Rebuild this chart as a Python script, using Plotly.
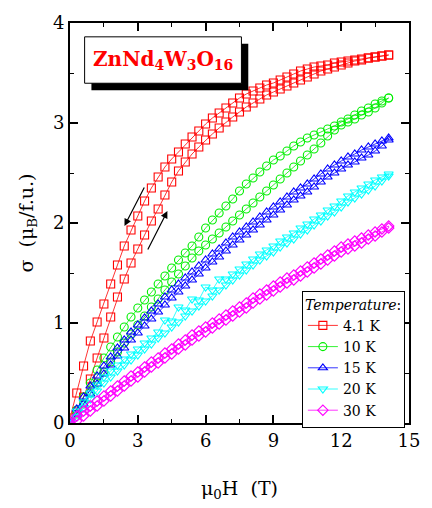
import plotly.graph_objects as go

# Field grid (T) for each sweep branch
field = [0.0, 0.3, 0.6, 0.9, 1.2, 1.5, 1.8, 2.1, 2.4, 2.7, 3.0, 3.3, 3.6, 3.9, 4.2, 4.5,
         4.8, 5.1, 5.4, 5.7, 6.0, 6.3, 6.6, 6.9, 7.2, 7.5, 7.8, 8.1, 8.4, 8.7, 9.0, 9.3,
         9.6, 9.9, 10.2, 10.5, 10.8, 11.1, 11.4, 11.7, 12.0, 12.3, 12.6, 12.9, 13.2, 13.5,
         13.8, 14.1]

temps = ["4.1 K", "10 K", "15 K", "20 K", "30 K"]
colors = ["#ff0000", "#00ee00", "#0000ff", "#00ffff", "#ff00ff"]
symbols = ["square-open", "circle-open", "triangle-up-open", "triangle-down-open", "diamond-open"]

# Field-increasing branches (sigma in mu_B/f.u.)
up_41K = [0.00, 0.11, 0.26, 0.44, 0.65, 0.85, 1.06, 1.26, 1.44, 1.60, 1.74, 1.88, 2.02, 2.14, 2.28, 2.41,
          2.52, 2.61, 2.69, 2.76, 2.83, 2.89, 2.95, 3.01, 3.06, 3.11, 3.16, 3.20, 3.24, 3.28, 3.31, 3.34,
          3.37, 3.40, 3.43, 3.46, 3.49, 3.52, 3.54, 3.56, 3.58, 3.60, 3.62, 3.63, 3.65, 3.66, 3.67, 3.68]
up_10K = [0.00, 0.09, 0.19, 0.30, 0.40, 0.51, 0.61, 0.71, 0.80, 0.89, 0.98, 1.07, 1.16, 1.24, 1.33, 1.41,
          1.49, 1.57, 1.65, 1.72, 1.78, 1.84, 1.90, 1.96, 2.02, 2.08, 2.14, 2.20, 2.26, 2.32, 2.38, 2.44,
          2.50, 2.56, 2.62, 2.68, 2.74, 2.80, 2.87, 2.93, 2.98, 3.01, 3.04, 3.08, 3.11, 3.15, 3.20, 3.25]
up_15K = [0.00, 0.09, 0.19, 0.29, 0.39, 0.49, 0.58, 0.67, 0.75, 0.83, 0.90, 0.97, 1.04, 1.11, 1.18, 1.25,
          1.31, 1.37, 1.43, 1.49, 1.55, 1.61, 1.66, 1.72, 1.78, 1.83, 1.88, 1.93, 1.98, 2.03, 2.08, 2.13,
          2.18, 2.23, 2.27, 2.31, 2.36, 2.41, 2.46, 2.50, 2.54, 2.58, 2.61, 2.65, 2.68, 2.72, 2.77, 2.83]
up_20K = [0.00, 0.06, 0.15, 0.24, 0.32, 0.40, 0.46, 0.52, 0.58, 0.63, 0.68, 0.74, 0.79, 0.85, 0.90, 0.96,
          1.01, 1.07, 1.12, 1.17, 1.22, 1.27, 1.33, 1.38, 1.43, 1.48, 1.53, 1.58, 1.63, 1.67, 1.71, 1.76,
          1.80, 1.84, 1.89, 1.93, 1.98, 2.02, 2.07, 2.11, 2.16, 2.21, 2.25, 2.29, 2.33, 2.37, 2.42, 2.47]
up_30K = [0.00, 0.02, 0.07, 0.12, 0.17, 0.22, 0.27, 0.32, 0.37, 0.42, 0.46, 0.51, 0.56, 0.60, 0.65, 0.69,
          0.74, 0.78, 0.83, 0.87, 0.91, 0.95, 0.99, 1.03, 1.07, 1.11, 1.15, 1.20, 1.24, 1.28, 1.32, 1.36,
          1.40, 1.43, 1.47, 1.51, 1.55, 1.59, 1.63, 1.67, 1.71, 1.74, 1.77, 1.80, 1.84, 1.87, 1.91, 1.95]

# Field-decreasing branches (listed at the same field values, low to high)
down_41K = [0.05, 0.30, 0.57, 0.82, 1.01, 1.19, 1.39, 1.58, 1.77, 1.93, 2.07, 2.22, 2.35, 2.46, 2.56, 2.64,
            2.71, 2.79, 2.86, 2.92, 2.99, 3.05, 3.10, 3.15, 3.20, 3.25, 3.29, 3.32, 3.35, 3.38, 3.40, 3.43,
            3.46, 3.49, 3.52, 3.54, 3.56, 3.57, 3.58, 3.60, 3.61, 3.62, 3.63, 3.64, 3.65, 3.66, 3.67, 3.68]
down_10K = [0.02, 0.13, 0.26, 0.40, 0.53, 0.65, 0.76, 0.86, 0.96, 1.06, 1.15, 1.23, 1.31, 1.39, 1.47, 1.55,
            1.63, 1.70, 1.77, 1.86, 1.95, 2.03, 2.10, 2.17, 2.24, 2.32, 2.39, 2.45, 2.51, 2.57, 2.63, 2.67,
            2.72, 2.77, 2.81, 2.85, 2.88, 2.91, 2.94, 2.97, 3.01, 3.04, 3.08, 3.12, 3.15, 3.19, 3.22, 3.25]
down_15K = [0.01, 0.14, 0.26, 0.37, 0.47, 0.57, 0.66, 0.75, 0.83, 0.91, 0.98, 1.05, 1.12, 1.19, 1.26, 1.33,
            1.39, 1.45, 1.51, 1.57, 1.63, 1.69, 1.74, 1.80, 1.86, 1.91, 1.96, 2.01, 2.06, 2.11, 2.16, 2.21,
            2.26, 2.31, 2.35, 2.39, 2.44, 2.49, 2.54, 2.58, 2.62, 2.66, 2.69, 2.73, 2.76, 2.79, 2.82, 2.85]
down_20K = [0.01, 0.12, 0.21, 0.30, 0.38, 0.46, 0.52, 0.58, 0.64, 0.69, 0.74, 0.80, 0.85, 0.91, 1.03, 1.02,
            1.16, 1.13, 1.24, 1.23, 1.36, 1.33, 1.44, 1.44, 1.49, 1.54, 1.59, 1.64, 1.69, 1.73, 1.77, 1.82,
            1.86, 1.90, 1.95, 1.99, 2.04, 2.08, 2.13, 2.17, 2.22, 2.27, 2.31, 2.35, 2.39, 2.43, 2.46, 2.49]
down_30K = [0.01, 0.07, 0.12, 0.17, 0.22, 0.27, 0.32, 0.37, 0.42, 0.47, 0.51, 0.56, 0.61, 0.65, 0.70, 0.74,
            0.79, 0.83, 0.88, 0.92, 0.96, 1.00, 1.04, 1.08, 1.12, 1.16, 1.20, 1.25, 1.29, 1.33, 1.37, 1.41,
            1.45, 1.48, 1.52, 1.56, 1.60, 1.64, 1.68, 1.72, 1.76, 1.79, 1.82, 1.85, 1.88, 1.91, 1.94, 1.97]

up_branches = [up_41K, up_10K, up_15K, up_20K, up_30K]
down_branches = [down_41K, down_10K, down_15K, down_20K, down_30K]

x_ticks = [0, 3, 6, 9, 12, 15]
y_ticks = [0, 1, 2, 3, 4]

SERIF = "DejaVu Serif"

fig = go.Figure()
for name, col, sym, up, down in zip(temps, colors, symbols, up_branches, down_branches):
    xs = list(field) + list(reversed(field))
    ys = list(up) + list(reversed(down))
    fig.add_trace(go.Scatter(
        x=xs, y=ys, name=name, mode="lines+markers",
        line=dict(color=col, width=0.8),
        marker=dict(symbol=sym, size=8, color=col, line=dict(color=col, width=1.1)),
    ))

axis_common = dict(
    showline=True, linecolor="black", linewidth=2, mirror="ticks",
    ticks="inside", ticklen=8, tickwidth=1.5, tickcolor="black",
    showgrid=False, zeroline=False,
    tickfont=dict(family=SERIF, size=18, color="black"),
)

fig.update_xaxes(
    range=[0, 15], tickvals=x_ticks, ticktext=[str(v) for v in x_ticks],
    minor=dict(ticks="inside", ticklen=4, tickwidth=1.2, tickcolor="black", dtick=1.5, tick0=0),
    title=dict(text="μ<sub>0</sub>H  (T)", font=dict(family=SERIF, size=19, color="black"), standoff=32),
    **axis_common,
)
fig.update_yaxes(
    range=[0, 4], tickvals=y_ticks, ticktext=[str(v) for v in y_ticks],
    minor=dict(ticks="inside", ticklen=4, tickwidth=1.2, tickcolor="black", dtick=0.5, tick0=0),
    title=dict(text="σ  (μ<sub>B</sub>/f.u.)", font=dict(family=SERIF, size=19, color="black"), standoff=14),
    **axis_common,
)

# Title box with drop shadow (paper coordinates)
fig.add_shape(type="rect", xref="paper", yref="paper", x0=0.0632, x1=0.5259, y0=0.8321, y1=0.9481,
              fillcolor="black", line=dict(width=0), layer="above")
fig.add_shape(type="rect", xref="paper", yref="paper", x0=0.0431, x1=0.5057, y0=0.8494, y1=0.9654,
              fillcolor="white", line=dict(color="black", width=1), layer="above")
fig.add_annotation(xref="paper", yref="paper", x=0.2744, y=0.9074, xanchor="center", yanchor="middle",
                   text="<b>ZnNd<sub>4</sub>W<sub>3</sub>O<sub>16</sub></b>", showarrow=False,
                   font=dict(family=SERIF, size=20, color="#ff0000"))

# Sweep-direction arrows
fig.add_annotation(x=2.41, y=1.97, ax=3.32, ay=2.37, xref="x", yref="y", axref="x", ayref="y",
                   text="", showarrow=True, arrowhead=2, arrowsize=1.2, arrowwidth=1.2, arrowcolor="black")
fig.add_annotation(x=4.31, y=2.12, ax=3.41, ay=1.72, xref="x", yref="y", axref="x", ayref="y",
                   text="", showarrow=True, arrowhead=2, arrowsize=1.2, arrowwidth=1.2, arrowcolor="black")

fig.update_layout(
    width=432, height=508,
    margin=dict(l=70, r=14, t=18, b=85),
    paper_bgcolor="white", plot_bgcolor="white",
    showlegend=True,
    legend=dict(
        x=0.684, y=0.331, xanchor="left", yanchor="top",
        bgcolor="white", bordercolor="black", borderwidth=1,
        font=dict(family=SERIF, size=14, color="black"),
        title=dict(text="<i>Temperature</i>:", font=dict(family=SERIF, size=14, color="black")),
        tracegroupgap=0, itemwidth=30,
    ),
)

fig.write_html("out.html")
